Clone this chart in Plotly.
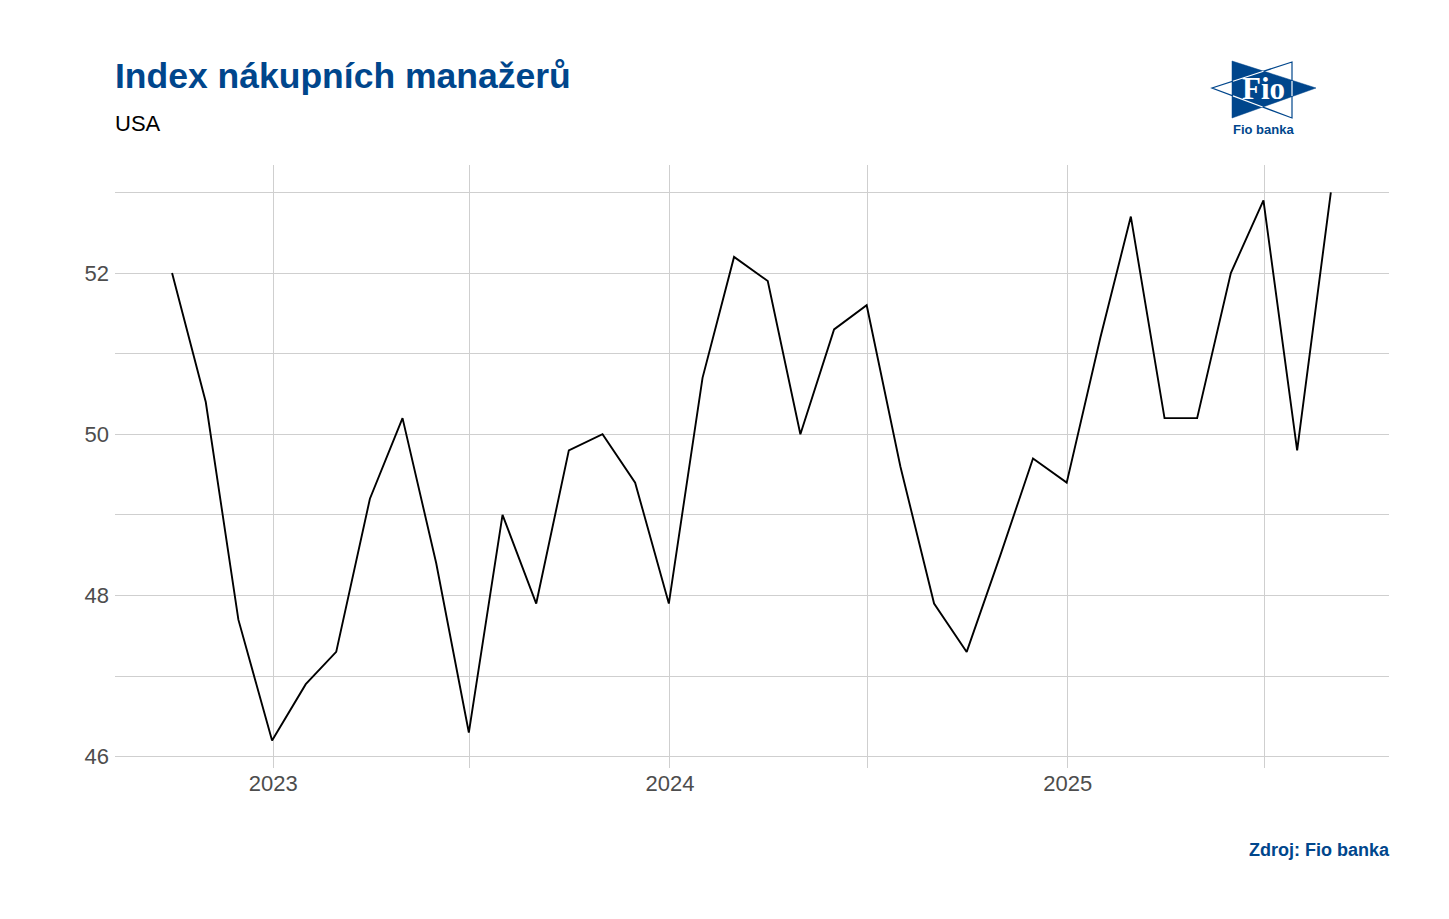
import plotly.graph_objects as go

# ---- data ----
dates = [
    "2022-09-30", "2022-10-31", "2022-11-30", "2022-12-31",
    "2023-01-31", "2023-02-28", "2023-03-31", "2023-04-30", "2023-05-31", "2023-06-30",
    "2023-07-31", "2023-08-31", "2023-09-30", "2023-10-31", "2023-11-30", "2023-12-31",
    "2024-01-31", "2024-02-29", "2024-03-31", "2024-04-30", "2024-05-31", "2024-06-30",
    "2024-07-31", "2024-08-31", "2024-09-30", "2024-10-31", "2024-11-30", "2024-12-31",
    "2025-01-31", "2025-02-28", "2025-03-31", "2025-04-30", "2025-05-31", "2025-06-30",
    "2025-07-31", "2025-08-31",
]
pmi = [
    52.0, 50.4, 47.7, 46.2,
    46.9, 47.3, 49.2, 50.2, 48.4, 46.3,
    49.0, 47.9, 49.8, 50.0, 49.4, 47.9,
    50.7, 52.2, 51.9, 50.0, 51.3, 51.6,
    49.6, 47.9, 47.3, 48.5, 49.7, 49.4,
    51.2, 52.7, 50.2, 50.2, 52.0, 52.9,
    49.8, 53.0,
]
x_tick_vals = ["2023-01-01", "2024-01-01", "2025-01-01"]
x_tick_text = ["2023", "2024", "2025"]
x_minor_vals = ["2023-07-01", "2024-07-01", "2025-07-01"]
y_tick_vals = [46, 48, 50, 52]
y_minor_vals = [47, 49, 51, 53]

title_text = "Index nákupních manažerů"
subtitle_text = "USA"
caption_text = "Zdroj: Fio banka"

BLUE = "#00468C"
GRID = "#cfcfcf"
FONT = "Liberation Sans, Arial, sans-serif"

OFF = 8  # page body margin
W, H = 1449 - 2 * OFF, 919 - 2 * OFF
L = 115 - OFF
T = 165 - OFF
R = W - (1389 - OFF)
B = H - (768 - OFF)
PW, PH = W - L - R, H - T - B


def px(xp):
    return (xp - OFF - L) / PW


def py(yp):
    return (H - B - (yp - OFF)) / PH


fig = go.Figure()
fig.add_trace(go.Scatter(
    x=dates, y=pmi, mode="lines",
    line=dict(color="black", width=1.9),
    hoverinfo="x+y", showlegend=False,
))

fig.update_layout(
    width=W, height=H,
    margin=dict(l=L, r=R, t=T, b=B),
    paper_bgcolor="white", plot_bgcolor="white",
    font=dict(family=FONT, color="#4d4d4d"),
    showlegend=False,
    xaxis=dict(
        type="date",
        range=["2022-08-08 12:00", "2025-10-23 12:00"],
        tickmode="array", tickvals=x_tick_vals, ticktext=x_tick_text,
        showgrid=True, gridcolor=GRID, gridwidth=1,
        minor=dict(tickmode="array", tickvals=x_minor_vals, showgrid=True,
                   gridcolor=GRID, gridwidth=1),
        zeroline=False, showline=False, ticks="",
        tickfont=dict(size=22, color="#4d4d4d", family=FONT),
    ),
    yaxis=dict(
        range=[45.86, 53.34],
        tickmode="array", tickvals=y_tick_vals,
        showgrid=True, gridcolor=GRID, gridwidth=1,
        minor=dict(tickmode="array", tickvals=y_minor_vals, showgrid=True,
                   gridcolor=GRID, gridwidth=1),
        zeroline=False, showline=False, ticks="",
        ticklabelstandoff=5,
        tickfont=dict(size=22, color="#4d4d4d", family=FONT),
    ),
)

annotations = [
    dict(text=f"<b>{title_text}</b>", x=px(113), y=py(76), xref="paper", yref="paper",
         xanchor="left", yanchor="middle", showarrow=False,
         font=dict(size=35.5, color=BLUE, family=FONT)),
    dict(text=subtitle_text, x=px(113), y=py(124), xref="paper", yref="paper",
         xanchor="left", yanchor="middle", showarrow=False,
         font=dict(size=22, color="black", family=FONT)),
    dict(text=f"<b>{caption_text}</b>", x=px(1392), y=py(850), xref="paper", yref="paper",
         xanchor="right", yanchor="middle", showarrow=False,
         font=dict(size=18, color=BLUE, family=FONT)),
    # logo texts
    dict(text="<b>Fio</b>", x=px(1263), y=py(89), xref="paper", yref="paper",
         xanchor="center", yanchor="middle", showarrow=False,
         font=dict(size=31, color="white", family="Liberation Serif, DejaVu Serif, serif")),
    dict(text="<b>Fio banka</b>", x=px(1263), y=py(130), xref="paper", yref="paper",
         xanchor="center", yanchor="middle", showarrow=False,
         font=dict(size=13, color=BLUE, family=FONT)),
]
fig.update_layout(annotations=annotations)


def path(points, close=True):
    s = "M " + " L ".join(f"{px(a)},{py(b)}" for a, b in points)
    return s + (" Z" if close else "")


shapes = [
    # outline triangle (pointing left)
    dict(type="path", xref="paper", yref="paper",
         path=path([(1292, 62), (1212, 88), (1292, 118)]),
         line=dict(color=BLUE, width=1.2), fillcolor="white", layer="above"),
    # blue triangle (pointing right)
    dict(type="path", xref="paper", yref="paper",
         path=path([(1232, 61), (1316, 88), (1232, 118)]),
         line=dict(color=BLUE, width=0.5), fillcolor=BLUE, layer="above"),
    # white edges inside blue
    dict(type="path", xref="paper", yref="paper",
         path=path([(1263.5, 71.3), (1233, 81.2)], close=False),
         line=dict(color="white", width=1.2), layer="above"),
    dict(type="path", xref="paper", yref="paper",
         path=path([(1262.6, 107.0), (1233, 95.9)], close=False),
         line=dict(color="white", width=1.2), layer="above"),
    dict(type="path", xref="paper", yref="paper",
         path=path([(1292, 81), (1292, 96)], close=False),
         line=dict(color="white", width=1.2), layer="above"),
]
fig.update_layout(shapes=shapes)

fig.write_html("out.html")
